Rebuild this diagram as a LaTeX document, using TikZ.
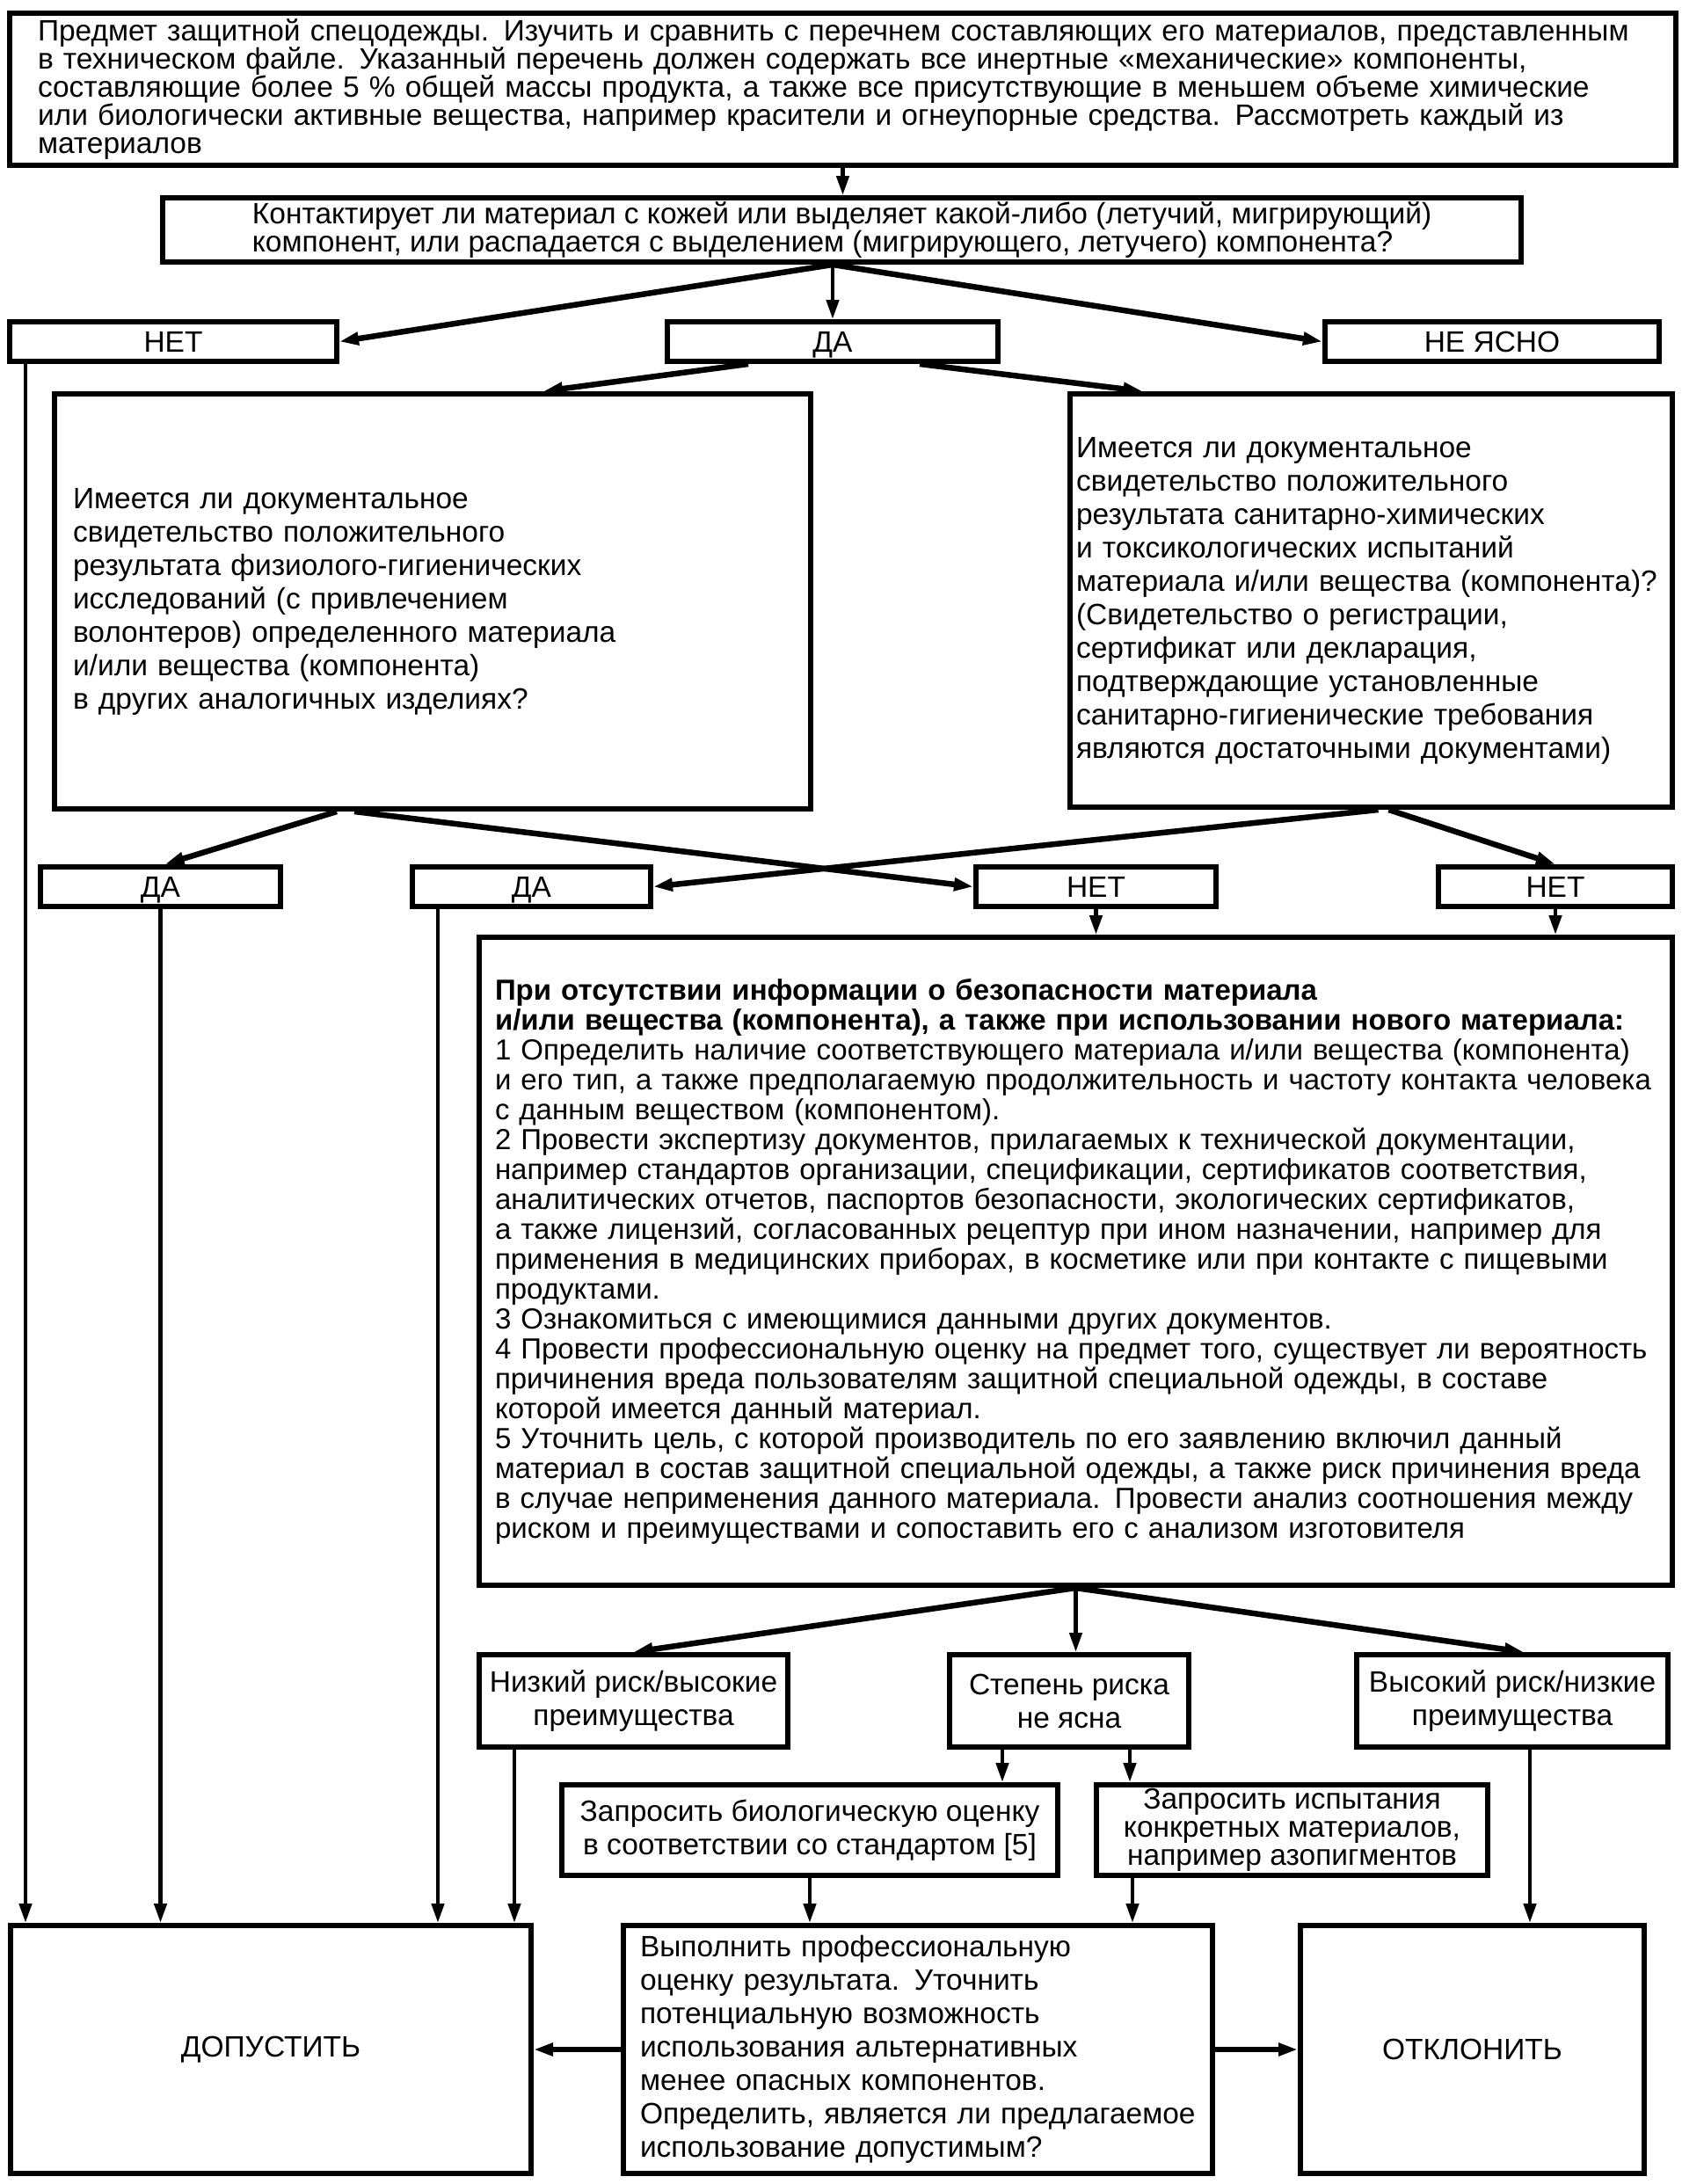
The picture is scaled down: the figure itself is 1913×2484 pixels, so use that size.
\documentclass[tikz,border=0pt]{standalone}
\usepackage{fontspec}
\setmainfont{Liberation Sans}
\usetikzlibrary{arrows.meta,calc}
\newcommand{\boxfont}{\fontsize{33.5}{32}\selectfont}
\newcommand{\pairfont}{\fontsize{33.5}{38}\selectfont}
\newcommand{\listfont}{\fontsize{33}{34}\selectfont}
\tikzset{
  box/.style   ={draw, line width=6pt, inner sep=0pt, font=\boxfont},
  lbox/.style  ={box, align=left},
  cbox/.style  ={box, align=center},
  answer/.style={cbox, minimum height=45pt, text height=24pt, text depth=0pt},
  tip/.style   ={-{Triangle[length=22pt,width=14pt]}},
  link/.style  ={tip, line width=4.5pt},
  slant/.style ={tip, line width=6.5pt},
}

\begin{document}
\begin{tikzpicture}[x=1pt,y=-1pt]
  \useasboundingbox (0,0) rectangle (1913,2484);
  % subject and first question
  \node[lbox, text width=1831pt, inner xsep=32pt, minimum height=173pt] (subj) at (958.5,101.5)
    {Предмет защитной спецодежды. Изучить и сравнить с перечнем составляющих его материалов, представленным\\
     в техническом файле. Указанный перечень должен содержать все инертные «механические» компоненты,\\
     составляющие более 5~\% общей массы продукта, а также все присутствующие в меньшем объеме химические\\
     или биологически активные вещества, например красители и огнеупорные средства. Рассмотреть каждый из\\
     материалов};
  \node[lbox, minimum width=1545pt, minimum height=73pt] (contact) at (957.5,261.5)
    {Контактирует ли материал с кожей или выделяет какой-либо (летучий, мигрирующий)\\
     компонент, или распадается с выделением (мигрирующего, летучего) компонента?};
  % first answers
  \node[answer, minimum width=372pt] (no1) at (197,388.5) {НЕТ};
  \node[answer, minimum width=376pt] (yes1) at (947,388.5) {ДА};
  \node[answer, minimum width=380pt] (unclear) at (1697,388.5) {НЕ ЯСНО};
  % documentary evidence
  \node[lbox, font=\pairfont, text width=818pt, inner xsep=21pt, minimum height=472pt] (physio) at (492,684)
    {Имеется ли документальное\\
     свидетельство положительного\\
     результата физиолого-гигиенических\\
     исследований (с привлечением\\
     волонтеров) определенного материала\\
     и/или вещества (компонента)\\
     в других аналогичных изделиях?};
  \node[lbox, font=\pairfont, text width=671pt, inner xsep=7pt, minimum height=470pt] (chem) at (1559.5,683)
    {Имеется ли документальное\\
     свидетельство положительного\\
     результата санитарно-химических\\
     и токсикологических испытаний\\
     материала и/или вещества (компонента)?\\
     (Свидетельство о регистрации,\\
     сертификат или декларация,\\
     подтверждающие установленные\\
     санитарно-гигиенические требования\\
     являются достаточными документами)};
  % second answers
  \foreach \n/\x/\w/\t in {yes2a/182.5/273/ДА, yes2b/604.5/271/ДА,
                           no2a/1246.5/273/НЕТ, no2b/1769/266/НЕТ}
    \node[answer, minimum width=\w pt] (\n) at (\x,1008.5) {\t};
  % no information on safety
  \node[lbox, font=\listfont, text width=1321pt, inner xsep=18pt, minimum height=737pt] (big) at (1223.5,1434.5)
    {\mbox{\bfseries При отсутствии информации о безопасности материала}\\
     \mbox{\bfseries и/или вещества (компонента), а также при использовании нового материала:}\\
     \mbox{1 Определить наличие соответствующего материала и/или вещества (компонента)}\\
     \mbox{и его тип, а также предполагаемую продолжительность и частоту контакта человека}\\
     \mbox{с данным веществом (компонентом).}\\
     \mbox{2 Провести экспертизу документов, прилагаемых к технической документации,}\\
     \mbox{например стандартов организации, спецификации, сертификатов соответствия,}\\
     \mbox{аналитических отчетов, паспортов безопасности, экологических сертификатов,}\\
     \mbox{а также лицензий, согласованных рецептур при ином назначении, например для}\\
     \mbox{применения в медицинских приборах, в косметике или при контакте с пищевыми}\\
     \mbox{продуктами.}\\
     \mbox{3 Ознакомиться с имеющимися данными других документов.}\\
     \mbox{4 Провести профессиональную оценку на предмет того, существует ли вероятность}\\
     \mbox{причинения вреда пользователям защитной специальной одежды, в составе}\\
     \mbox{которой имеется данный материал.}\\
     \mbox{5 Уточнить цель, с которой производитель по его заявлению включил данный}\\
     \mbox{материал в состав защитной специальной одежды, а также риск причинения вреда}\\
     \mbox{в случае неприменения данного материала. Провести анализ соотношения между}\\
     \mbox{риском и преимуществами и сопоставить его с анализом изготовителя}};
  % risk
  \node[cbox, font=\pairfont, minimum width=351pt, minimum height=105pt] (low) at (720.5,1934.5)
    {Низкий риск/высокие\\преимущества};
  \node[cbox, font=\pairfont, minimum width=272pt, minimum height=105pt] (degree) at (1216,1934.5)
    {Степень риска\\не ясна};
  \node[cbox, font=\pairfont, minimum width=354pt, minimum height=105pt] (high) at (1720,1934.5)
    {Высокий риск/низкие\\преимущества};
  \node[cbox, font=\pairfont, minimum width=564pt, minimum height=103pt] (bio) at (921,2081.5)
    {Запросить биологическую оценку\\в соответствии со стандартом [5]};
  \node[cbox, minimum width=445pt, minimum height=103pt] (tests) at (1469.5,2081.5)
    {Запросить испытания\\конкретных материалов,\\например азопигментов};
  % outcomes
  \node[cbox, minimum width=592pt, minimum height=282pt] (allow) at (308,2331) {ДОПУСТИТЬ};
  \node[lbox, font=\pairfont, text width=632pt, inner xsep=19pt, minimum height=282pt] (assess) at (1044,2331)
    {Выполнить профессиональную\\
     оценку результата. Уточнить\\
     потенциальную возможность\\
     использования альтернативных\\
     менее опасных компонентов.\\
     Определить, является ли предлагаемое\\
     использование допустимым?};
  \node[cbox, minimum width=391pt, minimum height=282pt] (reject) at (1674.5,2331) {ОТКЛОНИТЬ};

  % lanes for the straight drops
  \coordinate (fork)      at (yes1.north |- contact.south);
  \coordinate (laneNo)    at ($(no1.south west)+(21,0)$);
  \coordinate (laneYesB)  at ($(yes2b.south west)+(32,0)$);
  \coordinate (laneLow)   at ($(low.south west)+(43,0)$);
  \coordinate (laneBio)   at ($(degree.south)+(-76,0)$);
  \coordinate (laneTest)  at ($(degree.south)+(69,0)$);
  \coordinate (laneTestB) at ($(tests.south west)+(44,0)$);
  \coordinate (laneHigh)  at ($(high.south)+(20,0)$);

  % connectors
  \draw[link] (subj.south) -- (subj.south |- contact.north);
  \draw[slant] (fork) -- (no1.east);
  \draw[link] (fork) -- (yes1.north);
  \draw[slant] (fork) -- (unclear.west);
  \draw[slant] ($(yes1.south)+(-96,0)$) -- ($(physio.north)+(126,0)$);
  \draw[slant] ($(yes1.south)+(99,0)$) -- ($(chem.north)+(-260,0)$);
  \draw[slant] ($(physio.south)+(-109,0)$) -- ($(yes2a.north)+(5,0)$);
  \draw[slant] ($(physio.south)+(-89,0)$) -- (no2a.west);
  \draw[slant] ($(chem.south)+(8,0)$) -- (yes2b.east);
  \draw[slant] ($(chem.south)+(20,0)$) -- (no2b.north);
  \draw[link] (no2a.south) -- (no2a.south |- big.north);
  \draw[link] (no2b.south) -- (no2b.south |- big.north);
  \draw[slant] (big.south) -- (low.north);
  \draw[link] (big.south) -- (big.south |- degree.north);
  \draw[slant] (big.south) -- ($(high.north)+(13,0)$);
  \draw[link] (laneBio) -- (laneBio |- bio.north);
  \draw[link] (laneTest) -- (laneTest |- tests.north);
  \foreach \s in {laneNo, yes2a.south, laneYesB, laneLow}
    \draw[link] (\s) -- (\s |- allow.north);
  \draw[link] (bio.south) -- (bio.south |- assess.north);
  \draw[link] (laneTestB) -- (laneTestB |- assess.north);
  \draw[link] (laneHigh) -- (laneHigh |- reject.north);
  \draw[slant] (assess.west) -- (allow.east);
  \draw[slant] (assess.east) -- (reject.west);
\end{tikzpicture}
\end{document}
